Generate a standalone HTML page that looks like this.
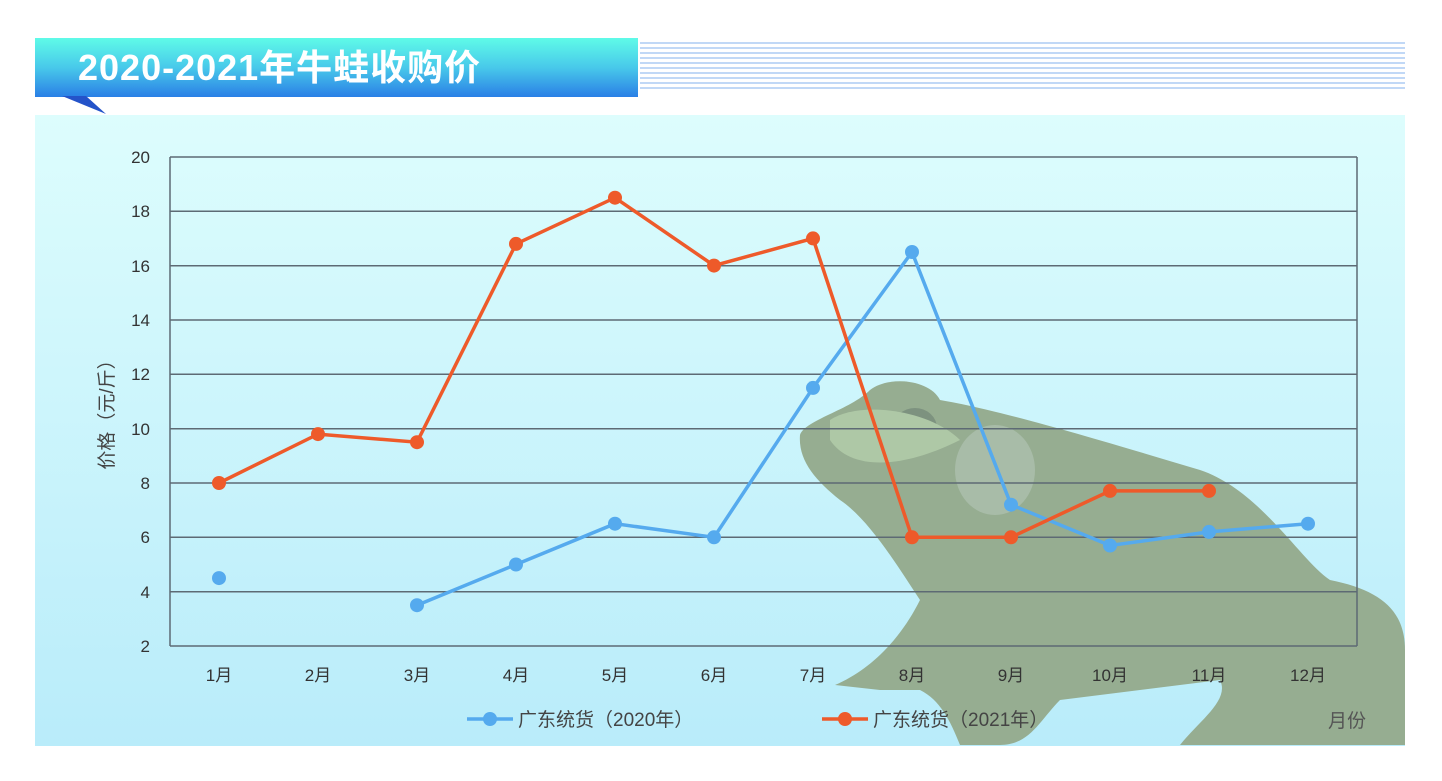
<!DOCTYPE html>
<html><head><meta charset="utf-8"><style>
html,body{margin:0;padding:0;background:#fff;width:1442px;height:781px;overflow:hidden}
</style></head><body>
<svg width="1442" height="781" xmlns="http://www.w3.org/2000/svg" style="font-family:'Liberation Sans','Noto Sans CJK SC',sans-serif">
<defs>
<linearGradient id="tb" x1="0" y1="0" x2="0" y2="1"><stop offset="0" stop-color="#5ffbe8"/><stop offset="0.5" stop-color="#48c9ea"/><stop offset="1" stop-color="#2a7fe6"/></linearGradient>
<linearGradient id="bg" x1="0" y1="0" x2="0" y2="1"><stop offset="0" stop-color="#ddfdfd"/><stop offset="1" stop-color="#b9ecfa"/></linearGradient>
</defs>
<g stroke="#9cc0f0" stroke-width="1.3">
<line x1="640" y1="43" x2="1405" y2="43"/><line x1="640" y1="48" x2="1405" y2="48"/><line x1="640" y1="53" x2="1405" y2="53"/><line x1="640" y1="58" x2="1405" y2="58"/><line x1="640" y1="63" x2="1405" y2="63"/><line x1="640" y1="68" x2="1405" y2="68"/><line x1="640" y1="73" x2="1405" y2="73"/><line x1="640" y1="78" x2="1405" y2="78"/><line x1="640" y1="83" x2="1405" y2="83"/><line x1="640" y1="88" x2="1405" y2="88"/>
</g>
<rect x="35" y="115" width="1370" height="631" fill="url(#bg)"/>
<rect x="35" y="38" width="603" height="59" fill="url(#tb)"/>
<polygon points="62,96 86,96 106,114" fill="#2453c9"/>
<text x="78" y="80" font-size="36" font-weight="bold" fill="#fff" letter-spacing="1">2020-2021年牛蛙收购价</text>
<path d="M800,435 C805,420 850,410 870,390 C890,375 930,380 940,400 C1000,410 1100,440 1200,470 C1260,490 1300,560 1330,580 C1380,590 1405,610 1405,650 L1405,745 L1180,745 C1200,720 1230,700 1220,680 L1060,700 C1040,720 1030,745 1000,745 L960,745 C950,720 940,700 920,690 L880,690 L835,685 C870,670 900,640 920,600 C900,570 870,520 840,500 C815,480 798,460 800,435 Z" fill="#96ad91"/>
<ellipse cx="915" cy="428" rx="22" ry="20" fill="#7d927f"/>
<ellipse cx="995" cy="470" rx="40" ry="45" fill="#a8bca8"/>
<path d="M830,420 C860,400 930,410 960,440 C900,470 850,470 830,440Z" fill="#aec8a6"/>
<g stroke="#5d6a74" stroke-width="1.5">
<line x1="170" y1="157" x2="1357" y2="157"/><line x1="170" y1="211.3" x2="1357" y2="211.3"/><line x1="170" y1="265.7" x2="1357" y2="265.7"/><line x1="170" y1="320" x2="1357" y2="320"/><line x1="170" y1="374.3" x2="1357" y2="374.3"/><line x1="170" y1="428.7" x2="1357" y2="428.7"/><line x1="170" y1="483" x2="1357" y2="483"/><line x1="170" y1="537.3" x2="1357" y2="537.3"/><line x1="170" y1="591.7" x2="1357" y2="591.7"/><line x1="170" y1="646" x2="1357" y2="646"/>
<line x1="170" y1="157" x2="170" y2="646"/><line x1="1357" y1="157" x2="1357" y2="646"/>
</g>
<g font-size="17" fill="#333" text-anchor="end">
<text x="150" y="163">20</text><text x="150" y="217">18</text><text x="150" y="272">16</text><text x="150" y="326">14</text><text x="150" y="380">12</text><text x="150" y="435">10</text><text x="150" y="489">8</text><text x="150" y="543">6</text><text x="150" y="598">4</text><text x="150" y="652">2</text>
</g>
<text transform="translate(113,410) rotate(-90)" font-size="19" fill="#444" text-anchor="middle">价格（元/斤）</text>
<g font-size="17" fill="#333" text-anchor="middle">
<text x="219" y="681">1月</text><text x="318" y="681">2月</text><text x="417" y="681">3月</text><text x="516" y="681">4月</text><text x="615" y="681">5月</text><text x="714" y="681">6月</text><text x="813" y="681">7月</text><text x="912" y="681">8月</text><text x="1011" y="681">9月</text><text x="1110" y="681">10月</text><text x="1209" y="681">11月</text><text x="1308" y="681">12月</text>
</g>
<polyline points="417,605.2 516,564.5 615,523.7 714,537.3 813,387.9 912,252 1011,504.7 1110,545.5 1209,531.9 1308,523.7" fill="none" stroke="#55aaee" stroke-width="3.5"/>
<g fill="#55aaee"><circle cx="219" cy="578.1" r="7"/><circle cx="417" cy="605.2" r="7"/><circle cx="516" cy="564.5" r="7"/><circle cx="615" cy="523.7" r="7"/><circle cx="714" cy="537.3" r="7"/><circle cx="813" cy="387.9" r="7"/><circle cx="912" cy="252" r="7"/><circle cx="1011" cy="504.7" r="7"/><circle cx="1110" cy="545.5" r="7"/><circle cx="1209" cy="531.9" r="7"/><circle cx="1308" cy="523.7" r="7"/></g>
<polyline points="219,483 318,434.1 417,442.2 516,243.9 615,197.7 714,265.6 813,238.4 912,537.3 1011,537.3 1110,490.9 1209,490.9" fill="none" stroke="#ee5a2a" stroke-width="3.5"/>
<g fill="#ee5a2a"><circle cx="219" cy="483" r="7"/><circle cx="318" cy="434.1" r="7"/><circle cx="417" cy="442.2" r="7"/><circle cx="516" cy="243.9" r="7"/><circle cx="615" cy="197.7" r="7"/><circle cx="714" cy="265.6" r="7"/><circle cx="813" cy="238.4" r="7"/><circle cx="912" cy="537.3" r="7"/><circle cx="1011" cy="537.3" r="7"/><circle cx="1110" cy="490.9" r="7"/><circle cx="1209" cy="490.9" r="7"/></g>
<line x1="467" y1="719" x2="513" y2="719" stroke="#55aaee" stroke-width="3.5"/><circle cx="490" cy="719" r="7" fill="#55aaee"/>
<text x="518" y="726" font-size="19" fill="#444">广东统货（2020年）</text>
<line x1="822" y1="719" x2="868" y2="719" stroke="#ee5a2a" stroke-width="3.5"/><circle cx="845" cy="719" r="7" fill="#ee5a2a"/>
<text x="873" y="726" font-size="19" fill="#444">广东统货（2021年）</text>
<text x="1328" y="727" font-size="19" fill="#555">月份</text>
</svg>
</body></html>
